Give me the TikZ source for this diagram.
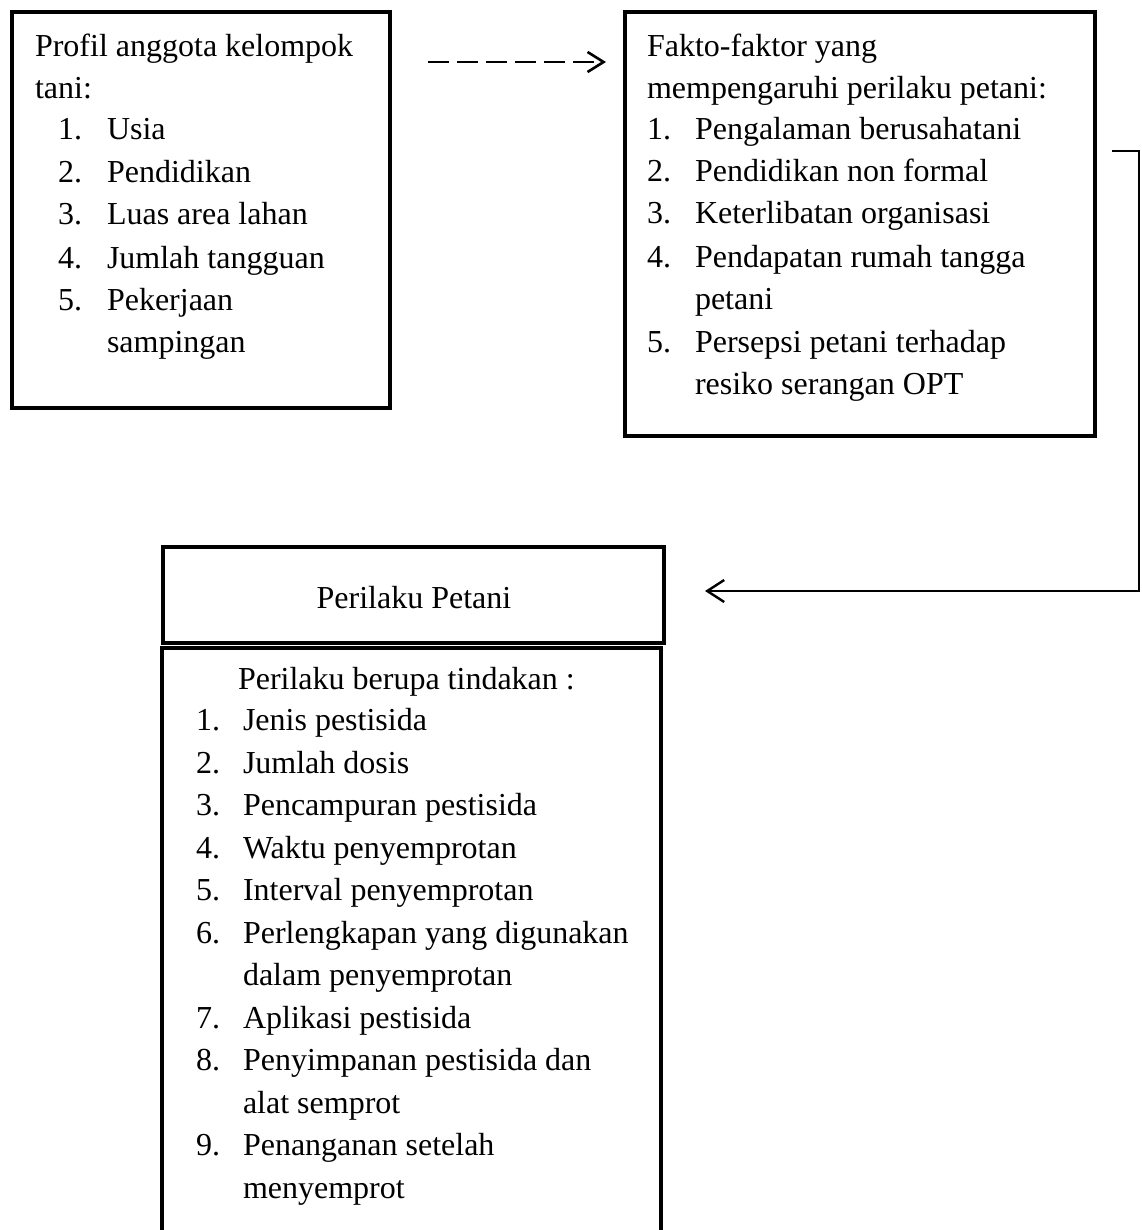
\documentclass[tikz,border=0pt]{standalone}
\usepackage{fontspec}
\setmainfont{Liberation Serif}
\usetikzlibrary{arrows.meta}
\begin{document}
\begin{tikzpicture}[x=0.5pt,y=-0.5pt]
\tikzset{
  box/.style={draw, line width=2pt, rectangle, inner sep=0pt, outer sep=0pt},
  txt/.style={anchor=base west, inner sep=0pt, outer sep=0pt, font=\fontsize{16pt}{19pt}\selectfont},
  ctxt/.style={anchor=base, inner sep=0pt, outer sep=0pt, font=\fontsize{16pt}{19pt}\selectfont},
  dashlink/.style={line width=1.3pt, dash pattern=on 10.5pt off 4pt, -{Straight Barb[length=8pt,width=10pt,line width=1.3pt]}},
  elbowlink/.style={line width=1pt, -{Straight Barb[length=8.5pt,width=11pt,line width=1.2pt]}}
}
\useasboundingbox (0,0) rectangle (1141,1230);
\begin{scope}
\clip (0,0) rectangle (1141,1230);
% boxes
\node[box, minimum width=189pt, minimum height=198pt] (b1) at (201,210) {};
\node[box, minimum width=235pt, minimum height=212pt] (b2) at (860,224) {};
\node[box, minimum width=250.5pt, minimum height=48pt] (b3h) at (413.5,595) {};
\node[box, minimum width=249.5pt, minimum height=306pt] (b3b) at (411.5,954) {};
\end{scope}

\begin{scope}[yshift=-1.5pt]
% box 1 text
\node[txt] (t1a) at (35,54) {Profil anggota kelompok};
\node[txt] (t1b) at (35,96) {tani:};
\node[txt] (n11) at (58,137) {1.}; \node[txt] (i11) at (107,137) {Usia};
\node[txt] (n12) at (58,180) {2.}; \node[txt] (i12) at (107,180) {Pendidikan};
\node[txt] (n13) at (58,222) {3.}; \node[txt] (i13) at (107,222) {Luas area lahan};
\node[txt] (n14) at (58,265) {4.}; \node[txt] (i14) at (107,265) {Jumlah tangguan};
\node[txt] (n15) at (58,307) {5.}; \node[txt] (i15) at (107,307) {Pekerjaan};
\node[txt] (i15b) at (107,349) {sampingan};

% box 2 text
\node[txt] (t2a) at (647,54) {Fakto-faktor yang};
\node[txt] (t2b) at (647,96) {mempengaruhi perilaku petani:};
\node[txt] (n21) at (647,137) {1.}; \node[txt] (i21) at (695,137) {Pengalaman berusahatani};
\node[txt] (n22) at (647,179) {2.}; \node[txt] (i22) at (695,179) {Pendidikan non formal};
\node[txt] (n23) at (647,221) {3.}; \node[txt] (i23) at (695,221) {Keterlibatan organisasi};
\node[txt] (n24) at (647,264) {4.}; \node[txt] (i24) at (695,264) {Pendapatan rumah tangga};
\node[txt] (i24b) at (695,306) {petani};
\node[txt] (n25) at (647,349) {5.}; \node[txt] (i25) at (695,349) {Persepsi petani terhadap};
\node[txt] (i25b) at (695,391) {resiko serangan OPT};

% box 3 text
\node[ctxt] (t3h) at (414,605) {Perilaku Petani};
\node[txt] (t3a) at (238,686) {Perilaku berupa tindakan :};
\node[txt] (n31) at (196,727) {1.}; \node[txt] (i31) at (243,727) {Jenis pestisida};
\node[txt] (n32) at (196,770) {2.}; \node[txt] (i32) at (243,770) {Jumlah dosis};
\node[txt] (n33) at (196,812) {3.}; \node[txt] (i33) at (243,812) {Pencampuran pestisida};
\node[txt] (n34) at (196,855) {4.}; \node[txt] (i34) at (243,855) {Waktu penyemprotan};
\node[txt] (n35) at (196,897) {5.}; \node[txt] (i35) at (243,897) {Interval penyemprotan};
\node[txt] (n36) at (196,940) {6.}; \node[txt] (i36) at (243,940) {Perlengkapan yang digunakan};
\node[txt] (i36b) at (243,982) {dalam penyemprotan};
\node[txt] (n37) at (196,1025) {7.}; \node[txt] (i37) at (243,1025) {Aplikasi pestisida};
\node[txt] (n38) at (196,1067) {8.}; \node[txt] (i38) at (243,1067) {Penyimpanan pestisida dan};
\node[txt] (i38b) at (243,1110) {alat semprot};
\node[txt] (n39) at (196,1152) {9.}; \node[txt] (i39) at (243,1152) {Penanganan setelah};
\node[txt] (i39b) at (243,1195) {menyemprot};
\end{scope}

% connectors
\coordinate (da) at (428,62);
\coordinate (db) at (606,62);
\draw[dashlink] (da) -- (db);
\coordinate (ea) at (1112,151);
\coordinate (ec) at (1139,591);
\coordinate (eb) at (705,591);
\draw[elbowlink] (ea) -| (ec) -- (eb);
\end{tikzpicture}
\end{document}
